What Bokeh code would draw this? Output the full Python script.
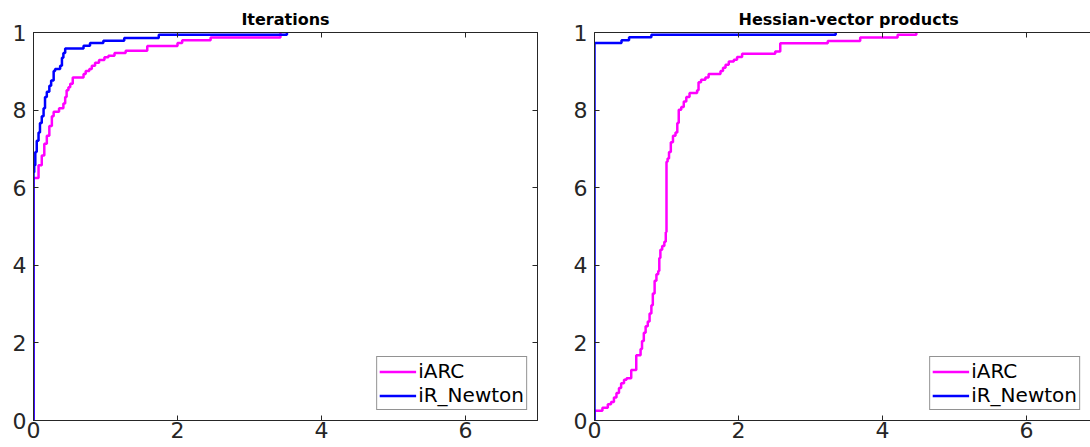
from bokeh.plotting import figure
from bokeh.models import Range1d, FixedTicker, LinearAxis, Legend, LegendItem, CustomLabelingPolicy
from bokeh.layouts import row
from bokeh.embed import file_html
from bokeh.resources import INLINE

# ---------------- data ----------------
series_names = ["iARC", "iR_Newton"]
titles = ["Iterations", "Hessian-vector products"]
x_ticks = [0, 2, 4, 6]
x_tick_labels = ["0", "2", "4", "6"]
y_ticks = [0, 0.2, 0.4, 0.6, 0.8, 1.0]
y_tick_labels = ["0", "2", "4", "6", "8", "1"]

# Iterations panel
iter_iarc_x = [0, 0, 0.07, 0.115, 0.15, 0.185, 0.22, 0.255, 0.28, 0.355, 0.415, 0.44,
               0.46, 0.485, 0.51, 0.545, 0.695, 0.725, 0.775, 0.81, 0.855, 0.91, 0.985,
               1.04, 1.125, 1.28, 1.58, 2.0, 2.065, 2.46, 3.43]
iter_iarc_y = [0, 0.625, 0.658, 0.683, 0.713, 0.734, 0.759, 0.784, 0.796, 0.805, 0.817, 0.834,
               0.851, 0.859, 0.868, 0.884, 0.893, 0.901, 0.906, 0.914, 0.922, 0.929, 0.936,
               0.940, 0.947, 0.953, 0.965, 0.973, 0.980, 0.987, 1.0]
iter_newton_x = [0, 0, 0.01, 0.025, 0.045, 0.07, 0.09, 0.115, 0.14, 0.16, 0.185, 0.22, 0.245,
                 0.28, 0.30, 0.37, 0.395, 0.415, 0.44, 0.695, 0.785, 0.97, 1.26, 1.74, 3.52]
iter_newton_y = [0, 0.64, 0.658, 0.692, 0.721, 0.742, 0.767, 0.784, 0.805, 0.834, 0.847, 0.863,
                 0.876, 0.901, 0.906, 0.914, 0.935, 0.947, 0.959, 0.966, 0.973, 0.979, 0.986,
                 0.994, 1.0]

# Hessian-vector products panel
hv_iarc_x = [0, 0, 0.11, 0.185, 0.23, 0.27, 0.305, 0.34, 0.37, 0.41, 0.445, 0.51, 0.58, 0.64,
             0.66, 0.685, 0.71, 0.74, 0.765, 0.79, 0.81, 0.835, 0.86, 0.885, 0.90, 0.915,
             0.94, 0.97, 0.99, 1.0, 1.015, 1.035, 1.06, 1.09, 1.125, 1.15, 1.17, 1.205,
             1.24, 1.275, 1.32, 1.425, 1.445, 1.48, 1.54, 1.585, 1.75, 1.785, 1.82, 1.865,
             1.935, 1.98, 2.05, 2.51, 2.58, 3.24, 3.69, 4.21, 4.47]
hv_iarc_y = [0, 0.025, 0.033, 0.042, 0.048, 0.059, 0.071, 0.084, 0.096, 0.105, 0.109, 0.130,
             0.168, 0.184, 0.205, 0.226, 0.243, 0.255, 0.276, 0.297, 0.327, 0.360, 0.377,
             0.385, 0.419, 0.440, 0.450, 0.461, 0.486, 0.667, 0.675, 0.692, 0.717, 0.734,
             0.742, 0.767, 0.801, 0.808, 0.822, 0.834, 0.844, 0.851, 0.872, 0.878, 0.884,
             0.893, 0.901, 0.909, 0.917, 0.925, 0.930, 0.937, 0.945, 0.951, 0.972, 0.978,
             0.987, 0.994, 1.0]
hv_newton_x = [0, 0, 0.375, 0.48, 0.79, 3.35]
hv_newton_y = [0, 0.973, 0.980, 0.988, 0.994, 1.0]

# ---------------- style ----------------
FONT = "DejaVu Sans"
AX = "#262626"
C_IARC = "#ff00ff"
C_NEWTON = "#0000ff"
HIDE_ALL = CustomLabelingPolicy(code="""
    for (const i of Array.from(indices)) { indices.unset(i) }
    return indices
""")


def make_axis_style(ax, labels=True, xaxis=True):
    ax.axis_line_color = AX
    ax.axis_line_width = 1
    ax.major_tick_line_color = AX
    ax.major_tick_in = 5
    ax.major_tick_out = 0
    ax.minor_tick_line_color = None
    ax.major_label_text_font = FONT
    ax.major_label_text_color = AX
    ax.ticker = FixedTicker(ticks=x_ticks if xaxis else y_ticks)
    if labels:
        ax.major_label_text_font_size = "22px"
        ax.major_label_standoff = 1 if xaxis else 7
        if xaxis:
            ax.major_label_overrides = {t: l for t, l in zip(x_ticks, x_tick_labels)}
        else:
            ax.major_label_overrides = {t: l for t, l in zip(y_ticks, y_tick_labels)}
    else:
        ax.major_label_text_font_size = "1px"
        ax.major_label_standoff = 0
        ax.major_label_policy = HIDE_ALL


def make_panel(title, xs, ys, width, x_end, min_right, right_axis, title_offset):
    p = figure(width=width, height=447, x_range=Range1d(0, x_end), y_range=Range1d(0, 1),
               output_backend="svg", toolbar_location=None,
               min_border_left=33, min_border_right=min_right,
               min_border_top=32, min_border_bottom=27)
    p.background_fill_color = "white"
    p.border_fill_color = "white"
    p.grid.visible = False
    p.outline_line_color = AX if right_axis else None

    p.title.text = title
    p.title.text_font = FONT
    p.title.text_font_size = "16px"
    p.title.text_font_style = "bold"
    p.title.text_color = "black"
    p.title.standoff = 0
    if title_offset is None:
        p.title.align = "center"
    else:
        p.title.align = "left"
        p.title.offset = title_offset

    make_axis_style(p.xaxis[0], True, True)
    make_axis_style(p.yaxis[0], True, False)
    top = LinearAxis()
    make_axis_style(top, False, True)
    p.add_layout(top, "above")
    if right_axis:
        rt = LinearAxis()
        make_axis_style(rt, False, False)
        p.add_layout(rt, "right")

    colors = [C_IARC, C_NEWTON]
    items = []
    for name, x, y, c in zip(series_names, xs, ys, colors):
        r = p.step(x, y, mode="after", line_width=2.5, line_color=c)
        items.append(LegendItem(label=name, renderers=[r]))

    leg = Legend(items=items, location="bottom_right")
    leg.label_text_font = FONT
    leg.label_text_font_size = "20px"
    leg.label_text_color = "black"
    leg.border_line_color = AX
    leg.border_line_width = 1
    leg.background_fill_color = "white"
    leg.background_fill_alpha = 1
    leg.glyph_width = 37
    leg.glyph_height = 21
    leg.label_height = 21
    leg.label_standoff = 2
    leg.padding = 2
    leg.spacing = 0
    leg.margin = 10
    p.add_layout(leg)
    return p


p1 = make_panel(titles[0], [iter_iarc_x, iter_newton_x], [iter_iarc_y, iter_newton_y],
                561, 7.0, 24, True, None)
p2 = make_panel(titles[1], [hv_iarc_x, hv_newton_x], [hv_iarc_y, hv_newton_y],
                529, 496 / 72, 0, False, 144)

layout = row(p1, p2, spacing=0)
open("out.html", "w").write(file_html(layout, INLINE))
